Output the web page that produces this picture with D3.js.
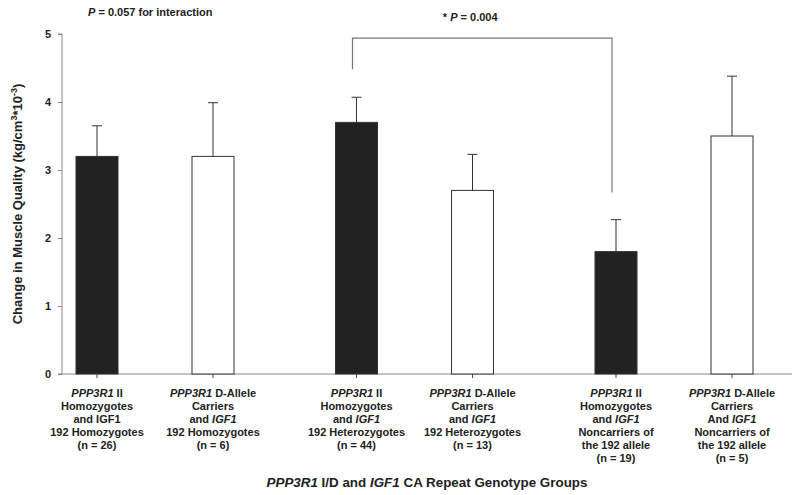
<!DOCTYPE html>
<html><head><meta charset="utf-8">
<script src="https://cdn.jsdelivr.net/npm/d3@7"></script>
<style>
body{margin:0;background:#fff;}
text{font-family:"Liberation Sans",Arial,Helvetica,sans-serif;font-weight:bold;fill:#222;}
</style></head>
<body><svg id="chart" width="800" height="495"></svg>
<script>
// ---- data ----
const categories = ["II / 192 Homo","D / 192 Homo","II / 192 Het","D / 192 Het","II / Non-192","D / Non-192"];
const groups = ["192 Homozygotes","192 Heterozygotes","Noncarriers of 192"];
const genotype = ["II","D","II","D","II","D"];
const values = [3.2, 3.2, 3.7, 2.7, 1.8, 3.5];
const errors = [0.45, 0.79, 0.37, 0.53, 0.47, 0.88];
const yTicks = [0,1,2,3,4,5];
const categoryLabels = [
  ["_PPP3R1_  II","Homozygotes","and IGF1","192 Homozygotes","(n = 26)"],
  ["_PPP3R1_ D-Allele","Carriers","and _IGF1_","192 Homozygotes","(n = 6)"],
  ["_PPP3R1_ II","Homozygotes","and _IGF1_","192 Heterozygotes","(n = 44)"],
  ["_PPP3R1_ D-Allele","Carriers","and _IGF1_","192 Heterozygotes","(n = 13)"],
  ["_PPP3R1_ II","Homozygotes","and _IGF1_","Noncarriers of","the 192 allele","(n = 19)"],
  ["_PPP3R1_ D-Allele","Carriers","And _IGF1_","Noncarriers of","the 192 allele","(n = 5)"]
];
const xTitle = "_PPP3R1_ I/D and _IGF1_ CA Repeat Genotype Groups";
const interactionNote = "_P_ = 0.057 for interaction";
const comparisonNote = "* _P_ = 0.004";
const comparison = {from: 2, to: 4, top: 4.94, leftEnd: 4.48, rightEnd: 2.67};

// ---- layout ----
const svg = d3.select("#chart");
const x0 = 62, x1 = 792, yTop = 34, yBase = 374;
const y = d3.scaleLinear().domain([0,5]).range([yBase, yTop]);
const gx = d3.scalePoint().domain(groups).range([155, 674]);
const inner = d3.scalePoint().domain(["II","D"]).range([-58, 58]);
const xc = i => gx(groups[Math.floor(i/2)]) + inner(genotype[i]);
const barW = 42;

function richText(sel, str){
  str.split("_").forEach((p,k)=>{
    if(!p) return;
    sel.append("tspan").text(p).style("font-style", k%2===1 ? "italic":"normal");
  });
}

// y axis
const yAxis = d3.axisLeft(y).tickValues(yTicks).tickSize(4).tickPadding(7).tickFormat(d3.format("d"));
const ga = svg.append("g").attr("transform",`translate(${x0},0)`).call(yAxis);
ga.select(".domain").attr("stroke","#888").attr("d",`M-4,${yTop}H0V${yBase}H-4`);
ga.selectAll(".tick line").attr("stroke","#888");
ga.selectAll(".tick text").style("font-size","11px").style("font-family","Liberation Sans, Arial").style("font-weight","bold").attr("fill","#222");

// x axis line + ticks
svg.append("line").attr("x1",x0).attr("x2",x1).attr("y1",yBase).attr("y2",yBase).attr("stroke","#888");
svg.selectAll(".xt").data(values).enter().append("line")
  .attr("x1",(d,i)=>xc(i)).attr("x2",(d,i)=>xc(i)).attr("y1",yBase).attr("y2",yBase+4).attr("stroke","#444");

// error bars
const eb = svg.selectAll(".eb").data(values).enter().append("g");
eb.append("line").attr("x1",(d,i)=>xc(i)).attr("x2",(d,i)=>xc(i))
  .attr("y1",d=>y(d)).attr("y2",(d,i)=>y(d+errors[i])).attr("stroke","#333");
eb.append("line").attr("x1",(d,i)=>xc(i)-5).attr("x2",(d,i)=>xc(i)+5)
  .attr("y1",(d,i)=>y(d+errors[i])).attr("y2",(d,i)=>y(d+errors[i])).attr("stroke","#333");

// bars
svg.selectAll(".bar").data(values).enter().append("rect")
  .attr("x",(d,i)=>xc(i)-barW/2).attr("width",barW)
  .attr("y",d=>y(d)).attr("height",d=>yBase-y(d))
  .attr("fill",(d,i)=>genotype[i]==="II"?"#222":"#fff")
  .attr("stroke","#333").attr("stroke-width",1);

// comparison bracket
const bx1 = xc(comparison.from)-4, bx2 = xc(comparison.to)-4;
svg.append("path")
  .attr("d",`M${bx1},${y(comparison.leftEnd)}V${y(comparison.top)}H${bx2}V${y(comparison.rightEnd)}`)
  .attr("fill","none").attr("stroke","#777").attr("stroke-width",1.2);

// notes
richText(svg.append("text").attr("x",88).attr("y",16).style("font-size","11px"), interactionNote);
richText(svg.append("text").attr("x",(bx1+bx2)/2-12).attr("y",21).attr("text-anchor","middle").style("font-size","11px"), comparisonNote);

// category labels
categoryLabels.forEach((lines,i)=>{
  const t = svg.append("text").attr("text-anchor","middle").style("font-size","11px");
  lines.forEach((ln,k)=>{
    const row = t.append("tspan").attr("x",xc(i)).attr("y",397+k*13);
    ln.split("_").forEach((p,j)=>{ if(p) row.append("tspan").text(p).style("font-style",j%2?"italic":"normal"); });
  });
});

// x title
richText(svg.append("text").attr("x",427).attr("y",487).attr("text-anchor","middle").style("font-size","13.4px"), xTitle);

// y title
const yt = svg.append("text").attr("transform","translate(22,204) rotate(-90)")
  .attr("text-anchor","middle").style("font-size","13px");
yt.append("tspan").text("Change in Muscle Quality (kg/cm");
yt.append("tspan").text("3").attr("dy",-5).style("font-size","9px");
yt.append("tspan").text("*10").attr("dy",5);
yt.append("tspan").text("-3").attr("dy",-5).style("font-size","9px");
yt.append("tspan").text(")").attr("dy",5);
</script></body></html>
